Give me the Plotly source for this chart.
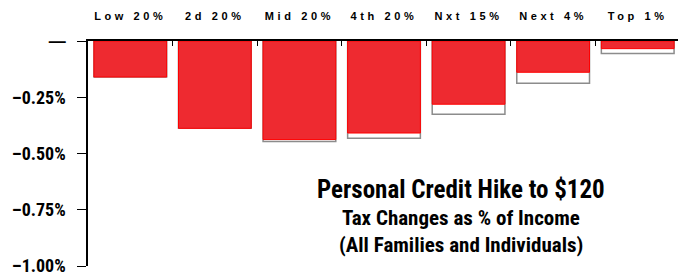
import plotly.graph_objects as go

categories = ["Low 20%", "2d 20%", "Mid 20%", "4th 20%", "Nxt 15%", "Next 4%", "Top 1%"]
credit_change = [-0.160, -0.388, -0.438, -0.409, -0.281, -0.139, -0.034]
outline_change = [-0.160, -0.388, -0.447, -0.432, -0.326, -0.188, -0.056]
ytick_vals = [0, -0.25, -0.5, -0.75, -1.0]
ytick_text = ["—", "–0.25%", "–0.50%", "–0.75%", "–1.00%"]
title_lines = ["Personal Credit Hike to $120", "Tax Changes as % of Income", "(All Families and Individuals)"]

narrow = "Liberation Sans Narrow, Arial Narrow, Roboto Condensed, Liberation Sans, Arial, sans-serif"

fig = go.Figure()
fig.add_trace(go.Bar(x=categories, y=outline_change, width=0.86,
                     marker=dict(color="white", line=dict(color="#8c8c8c", width=1.5)),
                     hoverinfo="skip", showlegend=False))
fig.add_trace(go.Bar(x=categories, y=credit_change, width=0.86,
                     marker=dict(color="#ee2a30", line=dict(color="#ff0000", width=1)),
                     showlegend=False))

ytext = ['<span style="font-family:Liberation Sans;font-size:17px">%s</span>' % t if t == "—" else t
         for t in ytick_text]

# page body keeps an 8px default margin, so the figure is 8px smaller and offset
fig.update_layout(
    width=678, height=270,
    margin=dict(l=80, r=6, t=33, b=12),
    barmode="overlay",
    plot_bgcolor="white", paper_bgcolor="white",
    xaxis=dict(
        side="top", type="category", automargin=False,
        tickvals=categories,
        ticktext=['<span style="letter-spacing:3.6px">%s</span>' % c for c in categories],
        showline=True, linecolor="black", linewidth=1.5,
        ticks="inside", ticklen=5, tickcolor="black", tickwidth=1.2,
        tickson="boundaries",
        ticklabelstandoff=15,
        tickfont=dict(family="Liberation Sans, Arial, sans-serif", size=11, color="black", weight="bold"),
        showgrid=False, zeroline=False, fixedrange=True,
    ),
    yaxis=dict(
        range=[-1.0, 0], tickvals=ytick_vals, ticktext=ytext, automargin=False,
        showline=True, linecolor="black", linewidth=1.5,
        ticks="outside", ticklen=9, tickcolor="black", tickwidth=1.2,
        tickfont=dict(family=narrow, size=18, color="black", weight="bold"),
        ticklabelstandoff=8,
        showgrid=False, zeroline=False, fixedrange=True,
    ),
    annotations=[
        dict(text=title_lines[0], x=0.63, y=0.338, xref="paper", yref="paper", showarrow=False,
             xanchor="center", yanchor="middle",
             font=dict(family=narrow, size=25, color="black", weight="bold")),
        dict(text=title_lines[1], x=0.63, y=0.213, xref="paper", yref="paper", showarrow=False,
             xanchor="center", yanchor="middle",
             font=dict(family=narrow, size=21, color="black", weight="bold")),
        dict(text=title_lines[2], x=0.63, y=0.093, xref="paper", yref="paper", showarrow=False,
             xanchor="center", yanchor="middle",
             font=dict(family=narrow, size=21, color="black", weight="bold")),
    ],
)

fig.write_html("out.html")
